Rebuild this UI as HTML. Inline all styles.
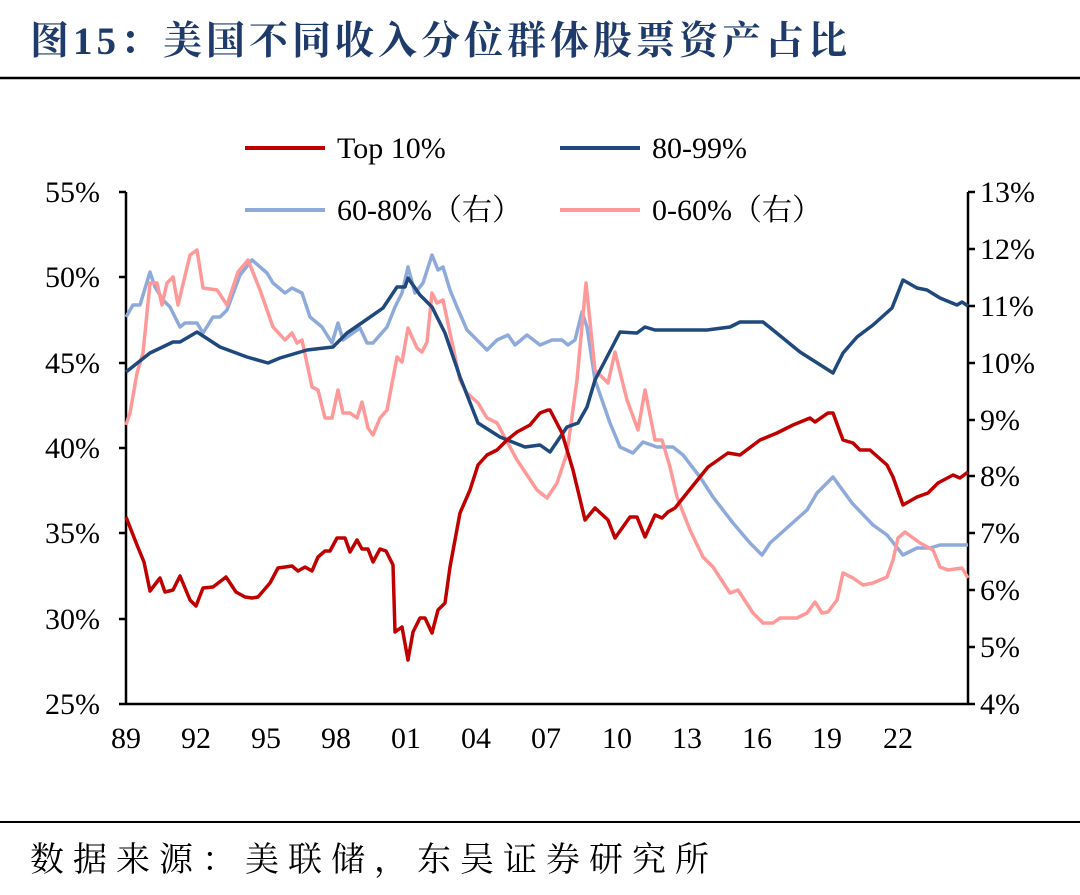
<!DOCTYPE html>
<html><head><meta charset="utf-8"><style>
body{margin:0;background:#fff;width:1080px;height:890px;overflow:hidden}
svg text{font-family:"Liberation Serif","Noto Serif CJK SC",serif;fill:#000}
</style></head><body>
<svg width="1080" height="890" viewBox="0 0 1080 890">
<text x="30" y="54" style="font-family:'Liberation Serif','Noto Serif CJK SC',serif;font-weight:bold;font-size:39px;letter-spacing:4px;fill:#1f3b6b">图15：美国不同收入分位群体股票资产占比</text>
<line x1="0" y1="78" x2="1080" y2="78" stroke="#000" stroke-width="2.5"/>
<line x1="0" y1="822" x2="1080" y2="822" stroke="#000" stroke-width="2"/>
<text x="30" y="871" style="font-family:'Liberation Serif','Noto Serif CJK SC',serif;font-size:34px;letter-spacing:9px">数据来源：美联储，东吴证券研究所</text>
<!-- axes -->
<g stroke="#000" stroke-width="2.5" fill="none">
<line x1="126" y1="192" x2="126" y2="704"/>
<line x1="968" y1="192" x2="968" y2="704"/>
<line x1="126" y1="704" x2="968" y2="704"/>
<path d="M119 192H126M119 277H126M119 363H126M119 448H126M119 533H126M119 619H126M119 704H126"/>
<path d="M968 192H975M968 249H975M968 306H975M968 363H975M968 420H975M968 476H975M968 533H975M968 590H975M968 647H975M968 704H975"/>
</g>
<g font-size="30" text-anchor="end">
<text x="100" y="202">55%</text><text x="100" y="287">50%</text><text x="100" y="373">45%</text><text x="100" y="458">40%</text><text x="100" y="543">35%</text><text x="100" y="629">30%</text><text x="100" y="714">25%</text>
</g>
<g font-size="30" text-anchor="start">
<text x="980" y="202">13%</text><text x="980" y="259">12%</text><text x="980" y="316">11%</text><text x="980" y="373">10%</text><text x="980" y="430">9%</text><text x="980" y="486">8%</text><text x="980" y="543">7%</text><text x="980" y="600">6%</text><text x="980" y="657">5%</text><text x="980" y="714">4%</text>
</g>
<g font-size="30" text-anchor="middle">
<text x="126" y="748">89</text><text x="196" y="748">92</text><text x="266" y="748">95</text><text x="336" y="748">98</text><text x="406" y="748">01</text><text x="476" y="748">04</text><text x="546" y="748">07</text><text x="617" y="748">10</text><text x="687" y="748">13</text><text x="757" y="748">16</text><text x="827" y="748">19</text><text x="898" y="748">22</text>
</g>
<!-- legend -->
<g stroke-width="4">
<line x1="245" y1="148" x2="325" y2="148" stroke="#c00000"/>
<line x1="560" y1="148" x2="640" y2="148" stroke="#1f497d"/>
<line x1="245" y1="210" x2="325" y2="210" stroke="#8eaadb"/>
<line x1="560" y1="210" x2="640" y2="210" stroke="#ff9999"/>
</g>
<g font-size="30">
<text x="337" y="158">Top 10%</text><text x="652" y="158">80-99%</text>
<text x="337" y="220">60-80%（右）</text><text x="652" y="220">0-60%（右）</text>
</g>
<g fill="none" stroke-width="3.5" stroke-linejoin="round">
<polyline stroke="#8eaadb" points="126,317 133,305 140,305 150,272 155,287 163,300 170,307 180,327 185,323 197,323 203,333 213,317 220,317 227,310 240,275 252,260 267,273 273,283 285,293 292,288 302,293 310,317 322,327 332,343 338,323 343,340 353,333 360,328 367,343 373,343 387,327 395,307 402,293 408,267 415,293 423,283 432,255 438,270 443,267 450,290 457,307 467,330 487,350 497,340 508,335 515,345 527,335 540,345 552,340 562,340 568,345 575,340 582,312 587,327 595,380 610,423 620,447 633,453 643,442 657,447 673,447 683,455 700,477 713,497 733,523 750,543 762,555 770,543 807,510 817,493 833,477 852,503 873,525 887,535 903,555 917,548 930,548 940,545 968,545"/>
<polyline stroke="#ff9999" points="126,425 130,413 137,373 143,353 150,283 157,283 162,305 167,283 173,277 178,305 190,255 197,250 203,288 217,290 227,305 238,272 248,260 260,290 273,327 285,340 292,333 297,343 302,340 312,387 318,390 325,418 332,418 338,390 343,413 350,413 357,418 362,402 368,428 373,435 380,418 387,410 397,357 402,362 408,328 417,348 422,352 427,342 432,293 437,303 443,300 453,347 460,380 467,393 478,403 487,418 497,423 517,460 537,490 547,498 557,483 567,453 577,380 586,283 595,370 608,383 615,352 627,400 638,430 645,390 655,440 662,440 670,467 677,497 690,530 703,557 713,567 730,593 738,590 753,613 763,623 773,623 780,618 797,618 807,613 815,602 822,613 828,612 837,600 843,573 853,578 863,585 873,583 887,577 893,560 898,538 905,532 920,543 933,550 940,567 948,570 962,568 968,578"/>
<polyline stroke="#1f497d" points="126,372 150,353 173,342 180,342 197,332 220,347 247,357 268,363 280,358 307,350 333,347 347,333 363,322 383,308 397,287 405,287 408,278 420,295 432,307 445,333 460,377 478,423 500,437 525,447 540,445 550,452 567,427 578,423 587,407 595,380 620,332 637,333 645,327 655,330 680,330 707,330 730,327 740,322 763,322 773,330 800,352 833,373 843,353 857,337 873,325 892,308 903,280 917,288 927,290 940,298 957,305 962,302 968,306"/>
<polyline stroke="#c00000" points="126,517 137,545 144,562 150,591 160,578 165,592 173,590 180,576 190,600 196,606 203,588 213,587 226,577 236,592 245,597 252,598 258,597 270,583 278,568 285,567 292,566 298,571 305,567 312,571 318,557 325,551 330,551 337,538 345,538 350,552 357,540 362,549 368,549 373,562 380,549 386,551 393,565 395,632 402,627 408,660 413,632 420,618 425,618 432,633 438,610 445,603 450,567 460,513 470,490 478,465 487,455 497,450 507,440 517,432 530,425 540,413 548,410 550,410 562,433 573,470 585,520 595,508 608,520 615,538 630,517 637,517 645,537 655,515 662,518 668,512 675,508 687,493 708,467 728,453 740,455 760,440 777,433 793,425 810,418 815,422 828,413 833,413 843,440 853,443 860,450 870,450 887,465 893,477 903,505 917,497 928,493 938,483 953,475 960,478 968,472"/>
</g>
</svg>
</body></html>
